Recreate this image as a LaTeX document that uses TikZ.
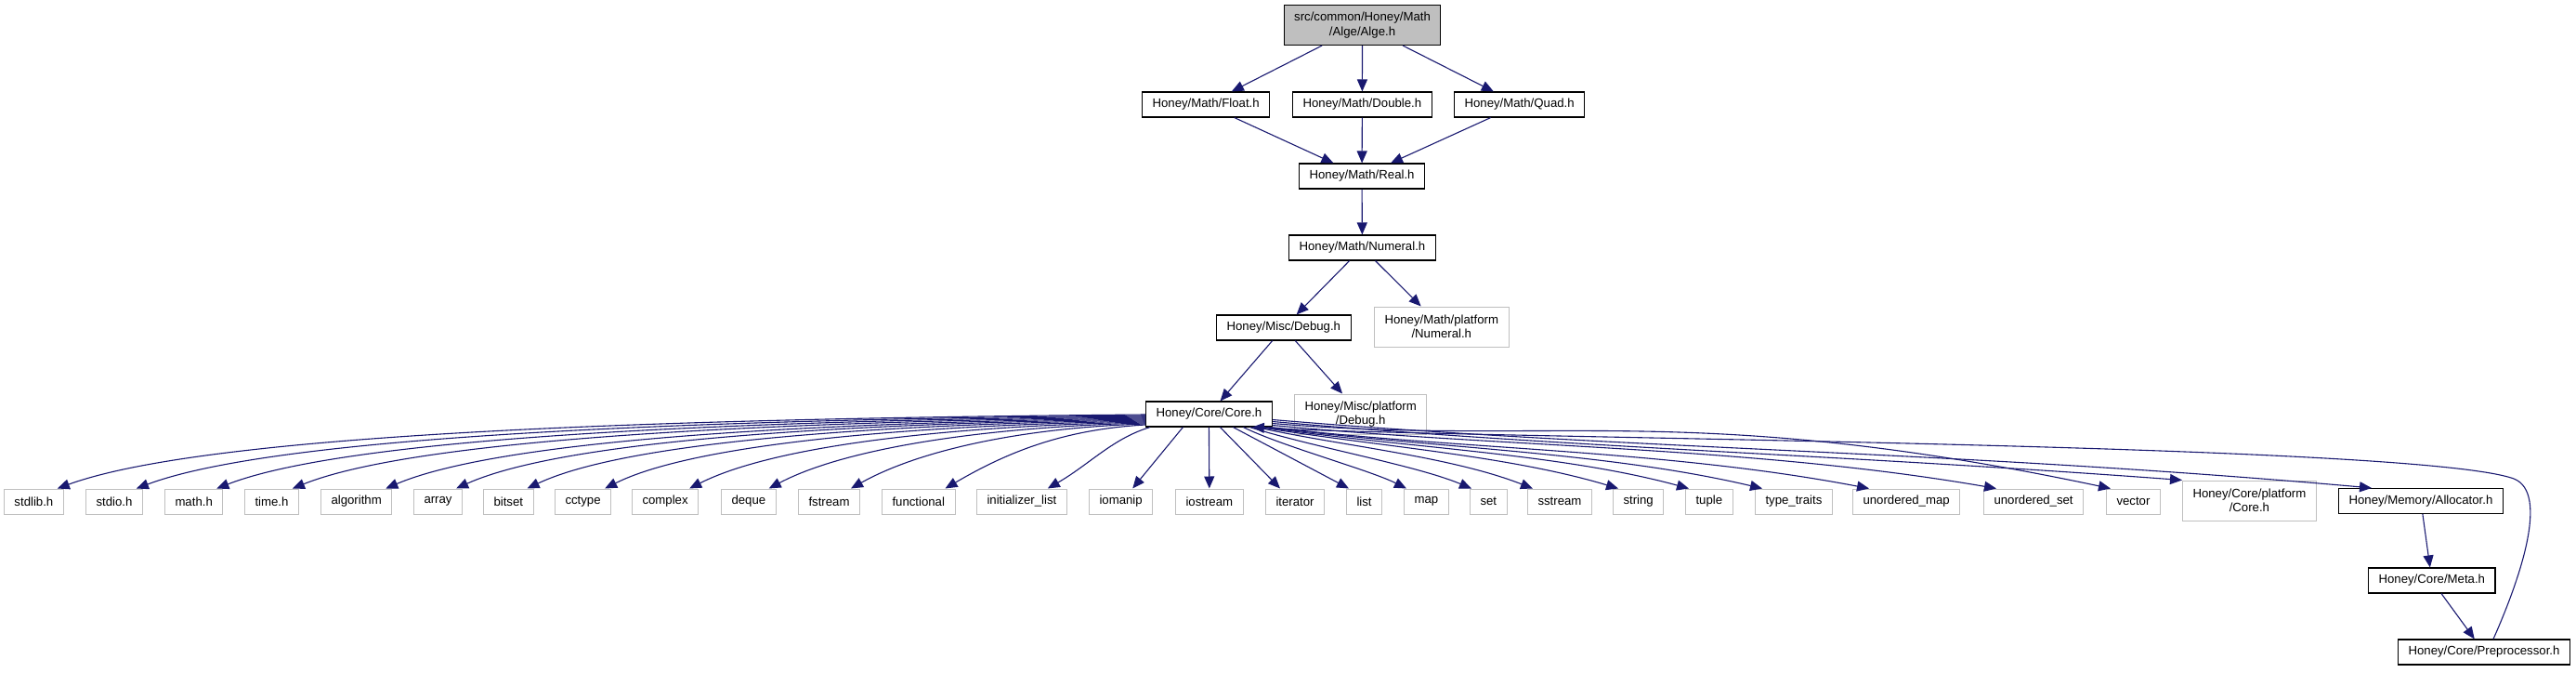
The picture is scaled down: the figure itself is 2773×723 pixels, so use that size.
\documentclass[tikz,border=0pt]{standalone}
\usepackage{fontspec}
\setmainfont{Liberation Sans}
\usetikzlibrary{arrows.meta,calc}
\definecolor{navyedge}{HTML}{191970}
\definecolor{leafgray}{HTML}{BFBFBF}
\begin{document}
\begin{tikzpicture}[x=1pt,y=-1pt,
  box/.style={draw=black, line width=1.1pt, fill=white, inner xsep=11pt, inner ysep=0pt,
    minimum height=27pt, font=\fontsize{13.2}{15.5}\selectfont, anchor=west},
  leaf/.style={box, draw=leafgray, line width=1pt},
  twoline/.style={minimum height=43pt, align=center},
  edge/.style={draw=navyedge, line width=1.1pt, -{Triangle[length=13pt,width=11pt]}},
]
\useasboundingbox (0,0) rectangle (2773,723);

% upper chain
\node[box, fill=leafgray, twoline, anchor=center] (top) at (1466.5,27) {src/common/Honey/Math\\/Alge/Alge.h};
\node[box] (float) at (1229,112.5) {Honey/Math/Float.h};
\node[box] (double) at (1391,112.5) {Honey/Math/Double.h};
\node[box] (quad) at (1565,112.5) {Honey/Math/Quad.h};
\node[box] (real) at (1398,189.5) {Honey/Math/Real.h};
\node[box] (numeral) at (1387,266.5) {Honey/Math/Numeral.h};
\node[leaf, twoline] (mathplat) at (1479,351.5) {Honey/Math/platform\\/Numeral.h};
\node[box] (debug) at (1309,352.5) {Honey/Misc/Debug.h};
\node[leaf, twoline] (miscplat) at (1393,445.5) {Honey/Misc/platform\\/Debug.h};
\node[box] (core) at (1233,445.5) {Honey/Core/Core.h};

% bottom row
\node[leaf] (stdlib) at (4,539.5) {stdlib.h};
\node[leaf] (stdio) at (92,539.5) {stdio.h};
\node[leaf] (math) at (177,539.5) {math.h};
\node[leaf] (time) at (263,539.5) {time.h};
\node[leaf] (algorithm) at (345,539.5) {algorithm};
\node[leaf] (array) at (445,539.5) {array};
\node[leaf] (bitset) at (520,539.5) {bitset};
\node[leaf] (cctype) at (597,539.5) {cctype};
\node[leaf] (complex) at (680,539.5) {complex};
\node[leaf] (deque) at (776,539.5) {deque};
\node[leaf] (fstream) at (859,539.5) {fstream};
\node[leaf] (functional) at (949,539.5) {functional};
\node[leaf] (initlist) at (1051,539.5) {initializer\_list};
\node[leaf] (iomanip) at (1172,539.5) {iomanip};
\node[leaf] (iostream) at (1265,539.5) {iostream};
\node[leaf] (iterator) at (1362,539.5) {iterator};
\node[leaf] (list) at (1449,539.5) {list};
\node[leaf] (map) at (1511,539.5) {map};
\node[leaf] (set) at (1582,539.5) {set};
\node[leaf] (sstream) at (1644,539.5) {sstream};
\node[leaf] (string) at (1736,539.5) {string};
\node[leaf] (tuple) at (1814,539.5) {tuple};
\node[leaf] (typetraits) at (1889,539.5) {type\_traits};
\node[leaf] (umap) at (1994,539.5) {unordered\_map};
\node[leaf] (uset) at (2135,539.5) {unordered\_set};
\node[leaf] (vector) at (2267,539.5) {vector};
\node[leaf, twoline] (coreplat) at (2349,538.5) {Honey/Core/platform\\/Core.h};
\node[box] (alloc) at (2517,539) {Honey/Memory/Allocator.h};
\node[box] (meta) at (2549,624.5) {Honey/Core/Meta.h};
\node[box] (prep) at (2581,701.5) {Honey/Core/Preprocessor.h};

% straight edges
\draw[edge] (top) -- (float);
\draw[edge] (top) -- (double);
\draw[edge] (top) -- (quad);
\draw[edge] (float) -- (real);
\draw[edge] (double) -- (real);
\draw[edge] (quad) -- (real);
\draw[edge] (real) -- (numeral);
\draw[edge] (numeral) -- (debug);
\draw[edge] (numeral) -- (mathplat);
\draw[edge] (debug) -- (core);
\draw[edge] (debug) -- (miscplat);
\draw[edge] (alloc) -- (meta);
\draw[edge] (meta) -- (prep);

% core fan, left side
\draw[edge] ($(core.west)+(0,0.5)$) .. controls +(-470,4) and +(170,-62) .. ($(stdlib.north east)+(-7,0)$);
\draw[edge] ($(core.west)+(0,1.5)$) .. controls +(-435,4) and +(160,-60) .. ($(stdio.north east)+(-7,0)$);
\draw[edge] ($(core.west)+(0,2.5)$) .. controls +(-400,4) and +(150,-58) .. ($(math.north east)+(-7,0)$);
\draw[edge] ($(core.west)+(0,3.5)$) .. controls +(-370,4) and +(140,-56) .. ($(time.north east)+(-7,0)$);
\draw[edge] ($(core.west)+(0,4.5)$) .. controls +(-330,4) and +(130,-55) .. ($(algorithm.north east)+(-7,0)$);
\draw[edge] ($(core.west)+(0,5.5)$) .. controls +(-300,4) and +(120,-54) .. ($(array.north east)+(-7,0)$);
\draw[edge] ($(core.west)+(0,6.5)$) .. controls +(-270,4) and +(110,-52) .. ($(bitset.north east)+(-7,0)$);
\draw[edge] ($(core.west)+(0,7.5)$) .. controls +(-235,4) and +(100,-50) .. ($(cctype.north east)+(-7,0)$);
\draw[edge] ($(core.west)+(0,8.5)$) .. controls +(-200,4) and +(95,-48) .. ($(complex.north east)+(-10,0)$);
\draw[edge] ($(core.west)+(0,9.5)$) .. controls +(-165,4) and +(85,-45) .. ($(deque.north east)+(-8,0)$);
\draw[edge] ($(core.west)+(0,10.5)$) .. controls +(-130,4) and +(75,-42) .. ($(fstream.north east)+(-10,0)$);
\draw[edge] ($(core.west)+(0,11.5)$) .. controls +(-90,5) and +(65,-38) .. ($(functional.north east)+(-11,0)$);
\draw[edge] ($(core.south west)+(5,0)$) .. controls +(-40,12) and +(45,-26) .. ($(initlist.north east)+(-21,0)$);
\draw[edge] ($(core.south)+(-28,0)$) -- ($(iomanip.north east)+(-22,0)$);

% core fan, middle and right side
\draw[edge] (core.south) -- (iostream.north);
\draw[edge] ($(core.south)+(12,0)$) -- ($(iterator.north west)+(16,0)$);
\draw[edge] ($(core.south)+(26,0)$) -- ($(list.north west)+(3,0)$);
\draw[edge] ($(core.south)+(37,0)$) .. controls +(40,20) and +(-40,-20) .. ($(map.north west)+(3,0)$);
\draw[edge] ($(core.south)+(44,0)$) .. controls +(70,22) and +(-60,-25) .. ($(set.north west)+(2,0)$);
\draw[edge] ($(core.south)+(51,0)$) .. controls +(90,20) and +(-90,-35) .. ($(sstream.north west)+(6,0)$);
\draw[edge] ($(core.south)+(55,0)$) .. controls +(120,20) and +(-120,-36) .. ($(string.north west)+(6,0)$);
\draw[edge] ($(core.south)+(59,0)$) .. controls +(150,22) and +(-140,-38) .. ($(tuple.north west)+(4,0)$);
\draw[edge] ($(core.south)+(63,0)$) .. controls +(170,22) and +(-170,-40) .. ($(typetraits.north west)+(8,0)$);
\draw[edge] ($(core.south east)+(-2,0)$) .. controls +(200,24) and +(-220,-42) .. ($(umap.north west)+(18,0)$);
\draw[edge] ($(core.east)+(0,12)$) .. controls +(250,24) and +(-260,-45) .. ($(uset.north west)+(14,0)$);
\draw[edge] ($(core.east)+(0,10)$) .. controls +(300,25) and +(-450,-95) .. ($(vector.north west)+(5,0)$);
\draw[edge] ($(core.east)+(0,8)$) .. controls +(320,28) and +(-380,-28) .. (coreplat.north west);
\draw[edge] ($(core.east)+(0,6)$) .. controls +(380,32) and +(-450,-40) .. ($(alloc.north west)+(36,0)$);

% Preprocessor back to Core
\coordinate (bend) at (2706,515);
\draw[edge] ($(prep.north)+(10,0)$) .. controls +(28,-63) and +(39,15) .. (bend)
  .. controls +(-106,-39) and +(200,12) .. ($(core.south east)+(-22,0)$);
\end{tikzpicture}
\end{document}
